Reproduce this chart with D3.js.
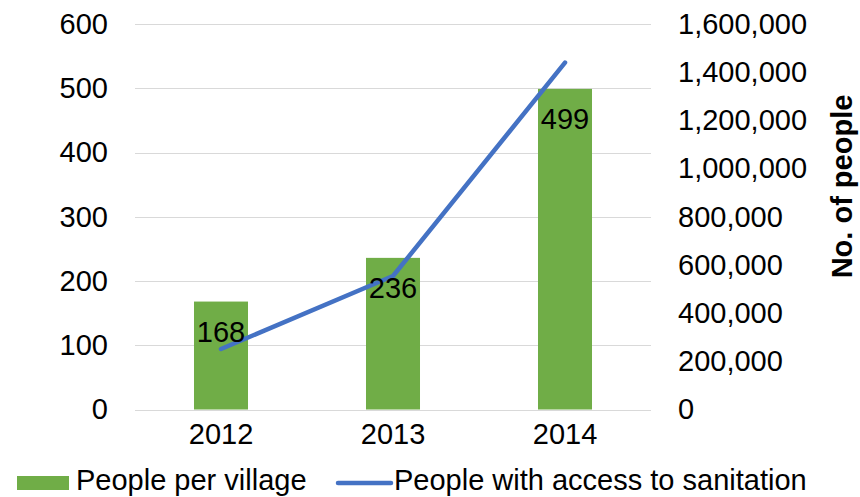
<!DOCTYPE html>
<html>
<head>
<meta charset="utf-8">
<script src="https://cdn.jsdelivr.net/npm/d3@7"></script>
<style>
  html, body { margin: 0; padding: 0; background: #fff; }
  svg { display: block; }
  text { font-family: Arial, "Liberation Sans", sans-serif; fill: #000; }
</style>
</head>
<body>
<svg id="chart" width="860" height="497"></svg>
<script>
// Sanitation programme figures by year
const years = ["2012", "2013", "2014"];
const peoplePerVillage = [168, 236, 499];
const peopleWithSanitation = [251000, 554000, 1440000];
const leftTicks = [0, 100, 200, 300, 400, 500, 600];
const rightTicks = [0, 200000, 400000, 600000, 800000, 1000000, 1200000, 1400000, 1600000];
const seriesNames = ["People per village", "People with access to sanitation"];
const rightAxisTitle = "No. of people";

const green = "#70AD47";
const blue = "#4472C4";
const gridColor = "#d9d9d9";
const fontSize = 29;
const fontFamily = "Arial, 'Liberation Sans', sans-serif";

const svg = d3.select("#chart");
const plot = { left: 135, right: 651, top: 24, bottom: 409.5 };

const x = d3.scaleBand()
  .domain(years)
  .range([plot.left, plot.right])
  .paddingInner(0.686)
  .paddingOuter(0.343);

const yLeft = d3.scaleLinear().domain([0, 600]).range([plot.bottom, plot.top]);
const yRight = d3.scaleLinear().domain([0, 1600000]).range([plot.bottom, plot.top]);

// Horizontal gridlines
svg.append("g")
  .selectAll("line")
  .data(leftTicks)
  .join("line")
  .attr("x1", plot.left)
  .attr("x2", plot.right)
  .attr("y1", d => Math.round(yLeft(d)) + 0.5)
  .attr("y2", d => Math.round(yLeft(d)) + 0.5)
  .attr("stroke", gridColor)
  .attr("stroke-width", 1.2);

function styleAxisText(g) {
  g.select(".domain").remove();
  g.selectAll("text")
    .style("font-size", fontSize + "px")
    .style("font-family", fontFamily)
    .attr("fill", "#000");
}

// Left axis
svg.append("g")
  .attr("transform", `translate(${plot.left},0)`)
  .call(d3.axisLeft(yLeft).tickValues(leftTicks).tickSize(0).tickPadding(27).tickFormat(d3.format("d")))
  .call(styleAxisText);

// Right axis
svg.append("g")
  .attr("transform", `translate(${plot.right},0)`)
  .call(d3.axisRight(yRight).tickValues(rightTicks).tickSize(0).tickPadding(27).tickFormat(d3.format(",")))
  .call(styleAxisText);

// Category axis
svg.append("g")
  .attr("transform", `translate(0,${plot.bottom})`)
  .call(d3.axisBottom(x).tickSize(0).tickPadding(14))
  .call(styleAxisText);

// Bars
const barData = years.map((y, i) => ({ year: y, value: peoplePerVillage[i] }));
svg.append("g")
  .selectAll("rect")
  .data(barData)
  .join("rect")
  .attr("x", d => x(d.year))
  .attr("width", x.bandwidth())
  .attr("y", d => yLeft(d.value))
  .attr("height", d => yLeft(0) - yLeft(d.value))
  .attr("fill", green);

// Line
const lineData = years.map((y, i) => ({ year: y, value: peopleWithSanitation[i] }));
const line = d3.line()
  .x(d => x(d.year) + x.bandwidth() / 2)
  .y(d => yRight(d.value));
svg.append("path")
  .datum(lineData)
  .attr("d", line)
  .attr("fill", "none")
  .attr("stroke", blue)
  .attr("stroke-width", 4.5)
  .attr("stroke-linecap", "round")
  .attr("stroke-linejoin", "round");

// Bar value labels (inside end)
svg.append("g")
  .selectAll("text")
  .data(barData)
  .join("text")
  .attr("x", d => x(d.year) + x.bandwidth() / 2)
  .attr("y", d => yLeft(d.value) + 40)
  .attr("text-anchor", "middle")
  .style("font-size", fontSize + "px")
  .text(d => d.value);

// Right axis title
svg.append("text")
  .attr("transform", "translate(852,186.5) rotate(-90)")
  .attr("text-anchor", "middle")
  .style("font-size", fontSize + "px")
  .style("font-weight", "bold")
  .text(rightAxisTitle);

// Legend
const legend = svg.append("g");
legend.append("rect")
  .attr("x", 17).attr("y", 476).attr("width", 52).attr("height", 14)
  .attr("fill", green);
legend.append("text")
  .attr("x", 76).attr("y", 490)
  .style("font-size", fontSize + "px")
  .text(seriesNames[0]);
legend.append("line")
  .attr("x1", 338).attr("x2", 391)
  .attr("y1", 483).attr("y2", 483)
  .attr("stroke", blue)
  .attr("stroke-width", 4.5)
  .attr("stroke-linecap", "round");
legend.append("text")
  .attr("x", 394).attr("y", 490)
  .style("font-size", fontSize + "px")
  .text(seriesNames[1]);
</script>
</body>
</html>
